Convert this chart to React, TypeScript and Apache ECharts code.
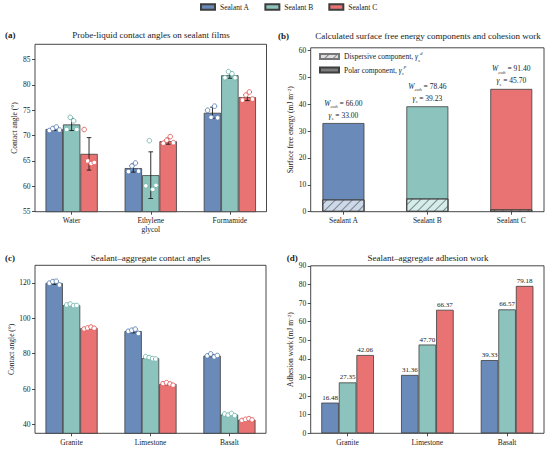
import React, { useEffect, useRef } from 'react';
import * as echarts from 'echarts';

const FONT = '"Liberation Serif", "Times New Roman", serif';
const INK = '#222222';
const EDGE = '#3d3d3d';

const SEALANTS = ['Sealant A', 'Sealant B', 'Sealant C'];
const COLORS = ['#6A8BB9', '#8CC4BD', '#E97272'];
const LIGHTS = ['#CED9E8', '#D6ECE9', '#F5CFCF'];
const RING = ['#5A7DB0', '#6FB5AC', '#E25B5B'];

// (a) probe-liquid contact angles
const A_CATS = ['Water', 'Ethylene\nglycol', 'Formamide'];
const A_TICKS = [55, 60, 65, 70, 75, 80, 85];
const A_MEAN_SA = [71.3, 63.6, 74.5];
const A_MEAN_SB = [72.2, 62.2, 81.9];
const A_MEAN_SC = [66.4, 68.9, 77.6];
const A_ERR_SA = [0.3, 0.8, 1.1];
const A_ERR_SB = [1.2, 4.6, 0.6];
const A_ERR_SC = [3.2, 0.6, 0.7];
const A_PTS_SA = [[71.0, 71.4, 71.7, 71.1], [62.9, 64.0, 64.6, 63.0], [75.0, 73.6, 75.8, 73.5]];
const A_PTS_SB = [[71.2, 73.6, 72.9, 71.2], [60.1, 69.0, 59.4, 60.2], [81.4, 82.6, 82.2, 81.4]];
const A_PTS_SC = [[71.2, 65.0, 64.5, 64.7], [68.5, 69.1, 69.8, 68.6], [77.0, 78.0, 78.6, 77.2]];

// (b) surface free energy
const B_CATS = ['Sealant A', 'Sealant B', 'Sealant C'];
const B_TICKS = [0, 10, 20, 30, 40, 50, 60];
const B_DISP = [4.55, 4.9, 0.85];
const B_TOTAL = [33.0, 39.23, 45.7];
const B_WCOH = [66.0, 78.46, 91.4];

// (c) sealant-aggregate contact angles
const C_CATS = ['Granite', 'Limestone', 'Basalt'];
const C_TICKS = [40, 60, 80, 100, 120];
const C_MEAN_SA = [120.0, 92.8, 78.9];
const C_MEAN_SB = [107.5, 77.5, 45.6];
const C_MEAN_SC = [94.5, 62.9, 42.7];
const C_ERR_SA = [0.8, 1.0, 0.6];
const C_ERR_SB = [0.3, 0.6, 0.5];
const C_ERR_SC = [0.5, 0.5, 0.4];
const C_PTS_SA = [[119.9, 120.8, 121.0, 118.9], [92.7, 93.3, 93.9, 91.5], [78.8, 79.9, 78.2, 79.0]];
const C_PTS_SB = [[107.6, 108.1, 107.2, 107.3], [78.3, 77.8, 77.2, 77.0], [45.9, 45.3, 46.2, 45.0]];
const C_PTS_SC = [[94.0, 94.6, 95.1, 94.4], [63.1, 63.6, 62.9, 62.2], [42.3, 42.9, 43.3, 42.6]];

// (d) adhesion work
const D_CATS = ['Granite', 'Limestone', 'Basalt'];
const D_TICKS = [0, 10, 20, 30, 40, 50, 60, 70, 80, 90];
const D_SA = [16.48, 31.36, 39.33];
const D_SB = [27.35, 47.7, 66.57];
const D_SC = [42.06, 66.37, 79.18];

const GRIDS = [
  { left: 35, top: 44.3, width: 231.5, height: 167.4 },
  { left: 310.7, top: 47.8, width: 233.3, height: 163.9 },
  { left: 35, top: 265.3, width: 231, height: 168 },
  { left: 310.7, top: 265.8, width: 233.3, height: 167.5 },
];
const XR = [-0.463, 2.463];
const XRB = [-0.39, 2.39];
const BW = 0.22;
const BWB = 0.5;
const JIT = [-0.28, -0.08, 0.12, 0.3];

const pxPerUnit = (g: any, r: number[]) => g.width / (r[1] - r[0]);

const xAxis = (gi: number, r: number[], cats: string[]) => ({
  type: 'value', gridIndex: gi, min: r[0], max: r[1],
  axisLine: { show: false, onZero: false }, splitLine: { show: false },
  axisTick: { show: true, length: 3, customValues: [0, 1, 2], lineStyle: { color: INK, width: 0.8 } },
  axisLabel: {
    customValues: [0, 1, 2], formatter: (v: number) => cats[Math.round(v)],
    fontSize: 7.5, fontFamily: FONT, color: INK, margin: 5, lineHeight: 8.5,
  },
});

const yAxis = (gi: number, min: number, max: number, ticks: number[], name: string, gap: number) => ({
  type: 'value', gridIndex: gi, min, max,
  axisLine: { show: false, onZero: false }, splitLine: { show: false },
  axisTick: { show: true, length: 3, customValues: ticks, lineStyle: { color: INK, width: 0.8 } },
  axisLabel: { customValues: ticks, fontSize: 7.5, fontFamily: FONT, color: INK, margin: 4.5 },
  name, nameLocation: 'middle', nameGap: gap, nameRotate: 90, nameMoveOverlap: false,
  nameTextStyle: {
    fontSize: 7.5, fontFamily: FONT, color: INK,
    rich: { sup: { fontSize: 5, fontFamily: FONT, color: INK, verticalAlign: 'top', lineHeight: 5 } },
  },
});

const errRender = (params: any, api: any) => {
  const x = api.value(0), m = api.value(1), e = api.value(2);
  const p1 = api.coord([x, m + e]);
  const p2 = api.coord([x, m - e]);
  const cw = 2.3;
  const st = { stroke: '#1a1a1a', lineWidth: 0.9 };
  return {
    type: 'group',
    children: [
      { type: 'line', shape: { x1: p1[0], y1: p1[1], x2: p2[0], y2: p2[1] }, style: st },
      { type: 'line', shape: { x1: p1[0] - cw, y1: p1[1], x2: p1[0] + cw, y2: p1[1] }, style: st },
      { type: 'line', shape: { x1: p2[0] - cw, y1: p2[1], x2: p2[0] + cw, y2: p2[1] }, style: st },
    ],
  };
};

function groupedPanel(gi: number, means: number[][], errs: number[][] | null, pts: number[][][] | null, labels: boolean) {
  const bwPx = BW * pxPerUnit(GRIDS[gi], XR);
  const out: any[] = [];
  means.forEach((vals, s) => {
    out.push({
      type: 'bar', name: SEALANTS[s], xAxisIndex: gi, yAxisIndex: gi,
      barWidth: bwPx, barGap: '-100%', z: 2,
      data: vals.map((v, i) => [i + (s - 1) * BW, v]),
      itemStyle: { color: COLORS[s], borderColor: EDGE, borderWidth: 0.8 },
      label: labels ? {
        show: true, position: 'top', distance: 1.5, fontSize: 7, fontFamily: FONT, color: INK,
        formatter: (p: any) => p.value[1].toFixed(2),
      } : { show: false },
    });
  });
  if (errs) {
    const data: number[][] = [];
    errs.forEach((ev, s) => ev.forEach((e, i) => data.push([i + (s - 1) * BW, means[s][i], e])));
    out.push({
      type: 'custom', name: 'err' + gi, xAxisIndex: gi, yAxisIndex: gi, z: 4,
      encode: { x: 0, y: 1 }, renderItem: errRender, data,
    });
  }
  if (pts) {
    pts.forEach((groups, s) => {
      const data: number[][] = [];
      groups.forEach((g, i) => g.forEach((v, j) => data.push([i + (s - 1) * BW + JIT[j] * BW, v])));
      out.push({
        type: 'scatter', name: 'pts' + gi + s, xAxisIndex: gi, yAxisIndex: gi, z: 5,
        symbol: 'circle', symbolSize: 4.6, data,
        itemStyle: { color: '#ffffff', borderColor: RING[s], borderWidth: 0.9, opacity: 1 },
      });
    });
  }
  return out;
}

const DECAL = {
  symbol: 'rect', symbolSize: 1, color: 'rgba(60,68,88,0.6)',
  dashArrayX: [1, 0], dashArrayY: [1, 4.5], rotation: -Math.PI / 4,
};

const subRich = {
  i: { fontSize: 7.5, fontFamily: FONT, fontStyle: 'italic', color: INK, lineHeight: 12 },
  s: { fontSize: 5, fontFamily: FONT, fontStyle: 'italic', color: INK, verticalAlign: 'bottom', lineHeight: 7 },
  p: { fontSize: 5, fontFamily: FONT, fontStyle: 'italic', color: INK, verticalAlign: 'top', lineHeight: 7 },
  t: { fontSize: 7.5, fontFamily: FONT, color: INK, lineHeight: 12 },
};

function txt(x: number, y: number, text: string, font: string, align: string) {
  return {
    type: 'text', x, y, silent: true,
    style: { text, font, fill: INK, align, textAlign: align, verticalAlign: 'middle', textVerticalAlign: 'middle' },
  };
}

export default function App() {
  const ref = useRef<HTMLDivElement>(null);
  useEffect(() => {
    document.body.style.margin = '0';
    const chart = echarts.init(ref.current!, null, { renderer: 'svg' });
    const bwB = BWB * pxPerUnit(GRIDS[1], XRB);
    const series: any[] = [
      ...groupedPanel(0, [A_MEAN_SA, A_MEAN_SB, A_MEAN_SC], [A_ERR_SA, A_ERR_SB, A_ERR_SC], [A_PTS_SA, A_PTS_SB, A_PTS_SC], false),
      {
        type: 'bar', name: 'polar', xAxisIndex: 1, yAxisIndex: 1, barWidth: bwB, barGap: '-100%', z: 2,
        itemStyle: { color: '#7d7d7d', borderColor: EDGE, borderWidth: 0.8 },
        data: B_TOTAL.map((v, i) => ({ value: [i, v], itemStyle: { color: COLORS[i] } })),
        label: {
          show: true, position: 'top', distance: 2, color: INK, fontFamily: FONT, fontSize: 7.5,
          formatter: (p: any) =>
            `{i|W}{s|coh}{t| = ${B_WCOH[p.dataIndex].toFixed(2)}}\n{i|γ}{s|s}{t| = ${B_TOTAL[p.dataIndex].toFixed(2)}}`,
          rich: subRich,
        },
      },
      {
        type: 'bar', name: 'disp', xAxisIndex: 1, yAxisIndex: 1, barWidth: bwB, barGap: '-100%', z: 3,
        itemStyle: { color: '#dedede', borderColor: '#777', borderWidth: 0.8, decal: DECAL },
        data: B_DISP.map((v, i) => ({ value: [i, v], itemStyle: { color: LIGHTS[i], borderColor: EDGE } })),
      },
      ...groupedPanel(2, [C_MEAN_SA, C_MEAN_SB, C_MEAN_SC], [C_ERR_SA, C_ERR_SB, C_ERR_SC], [C_PTS_SA, C_PTS_SB, C_PTS_SC], false),
      ...groupedPanel(3, [D_SA, D_SB, D_SC], null, null, true),
    ];
    chart.setOption({
      animation: false,
      backgroundColor: '#ffffff',
      textStyle: { fontFamily: FONT, color: INK },
      grid: GRIDS.map((g) => ({ ...g, show: true, borderColor: '#333333', borderWidth: 0.9, backgroundColor: 'transparent', containLabel: false })),
      xAxis: [xAxis(0, XR, A_CATS), xAxis(1, XRB, B_CATS), xAxis(2, XR, C_CATS), xAxis(3, XR, D_CATS)],
      yAxis: [
        yAxis(0, 55, 88, A_TICKS, 'Contact angle (°)', 17),
        yAxis(1, 0, 61, B_TICKS, 'Surface free energy (mJ m{sup|−2})', 16),
        yAxis(2, 35, 130, C_TICKS, 'Contact angle (°)', 20),
        yAxis(3, 0, 90, D_TICKS, 'Adhesion work (mJ m{sup|−2})', 16),
      ],
      legend: [
        {
          data: SEALANTS, left: 200, top: 3, itemWidth: 14, itemHeight: 5.5, itemGap: 15, icon: 'rect',
          padding: 0, selectedMode: false,
          textStyle: { fontSize: 7.5, fontFamily: FONT, color: INK },
        },
        {
          data: ['disp', 'polar'], orient: 'vertical', left: 319, top: 50.5, itemWidth: 19, itemHeight: 5,
          itemGap: 1.5, icon: 'rect', padding: 0, selectedMode: false,
          formatter: (n: string) => (n === 'disp' ? 'Dispersive component, {i|γ}{s|s}{p|d}' : 'Polar component, {i|γ}{s|s}{p|p}'),
          textStyle: { fontSize: 7.5, fontFamily: FONT, color: INK, rich: subRich },
        },
      ],
      graphic: [
        txt(5, 35, '(a)', `bold 9px ${FONT}`, 'left'),
        txt(151, 35, 'Probe-liquid contact angles on sealant films', `9px ${FONT}`, 'center'),
        txt(278, 35.5, '(b)', `bold 9px ${FONT}`, 'left'),
        txt(428, 35.5, 'Calculated surface free energy components and cohesion work', `9px ${FONT}`, 'center'),
        txt(5, 257.7, '(c)', `bold 9px ${FONT}`, 'left'),
        txt(150.5, 257.7, 'Sealant\u2013aggregate contact angles', `9px ${FONT}`, 'center'),
        txt(286.7, 257.7, '(d)', `bold 9px ${FONT}`, 'left'),
        txt(428, 257.7, 'Sealant\u2013aggregate adhesion work', `9px ${FONT}`, 'center'),
      ],
      series,
    });
    return () => chart.dispose();
  }, []);
  return <div ref={ref} style={{ width: 550, height: 452 }} />;
}
